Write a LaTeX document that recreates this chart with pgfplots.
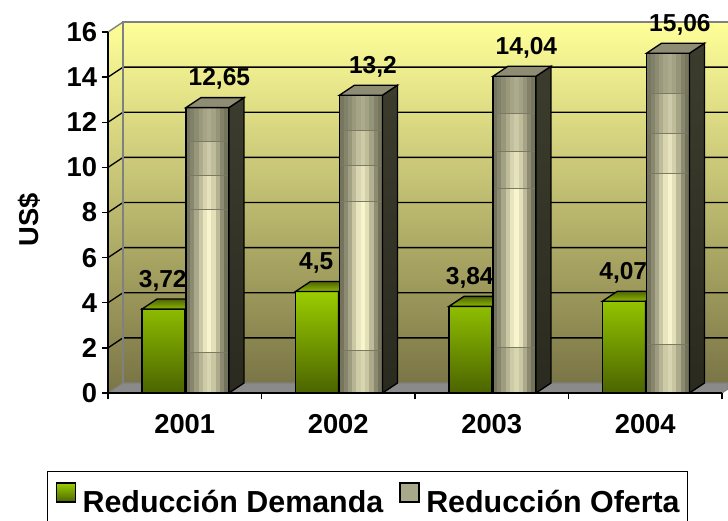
\documentclass[border=0pt]{standalone}
\usepackage{pgfplots}
\pgfplotsset{compat=1.18}
\usepackage{pgfplotstable}
\usepackage{fontspec}
\setmainfont{Liberation Sans}

\definecolor{wallTop}{HTML}{FFFF99}
\definecolor{wallMid}{HTML}{D9D581}
\definecolor{wallBot}{HTML}{7A7546}
\definecolor{floorC}{HTML}{8A8A8A}
\definecolor{edgeC}{HTML}{808080}
\definecolor{gTop}{HTML}{9ACD00}
\definecolor{gBot}{HTML}{4B6400}
\definecolor{gFaceBack}{HTML}{4E6408}
\definecolor{gFaceFront}{HTML}{8DB600}
\definecolor{oA}{HTML}{7A7A62}
\definecolor{oS1}{HTML}{74745C}
\definecolor{oS2}{HTML}{8C8B71}
\definecolor{oS3}{HTML}{A9A88A}
\definecolor{oS4}{HTML}{CBC8A5}
\definecolor{oS5}{HTML}{E9E5BE}
\definecolor{oS6}{HTML}{F8F5CE}
\definecolor{oS7}{HTML}{E4E0B8}
\definecolor{oS8}{HTML}{BDBB9A}
\definecolor{oS9}{HTML}{919075}
\definecolor{oS10}{HTML}{71715A}
\definecolor{oSideTop}{HTML}{3C3C2E}
\definecolor{oSideMid}{HTML}{646450}
\definecolor{oSideBot}{HTML}{2A2A1F}
\definecolor{oTopF}{HTML}{8E8C72}

\pgfplotsset{
  squarelegend/.style={legend image code/.code={\draw[##1,/tikz/.cd,line width=0.9pt] (0pt,0pt) rectangle (14.25pt,14.25pt);}},
  ofertalegend/.style={legend image code/.code={%
    \path[/tikz/fill=oS2] (0pt,0pt) rectangle (14.25pt,14.25pt);
    \path[/tikz/fill=oS4] (2.5pt,0pt) rectangle (11.5pt,14.25pt);
    \path[/tikz/fill=oS6] (5pt,0pt) rectangle (9pt,14.25pt);
    \path[/tikz/draw=black,/tikz/line width=0.9pt] (0pt,0pt) rectangle (14.25pt,14.25pt);}},
}

\pgfplotstableread{
x val
0.5 3.72
1.5 4.5
2.5 3.84
3.5 4.07
}\demanda
\pgfplotstableread{
x val
0.5 12.65
1.5 13.2
2.5 14.04
3.5 15.06
}\oferta

\begin{document}
\begin{tikzpicture}
\useasboundingbox (-81pt,-96pt) rectangle (465pt,294.75pt);
% back wall
\shade[top color=wallTop, middle color=wallMid, bottom color=wallBot] (11.25pt,7.5pt) rectangle (465pt,278.22pt);
% left wall
\shade[top color=wallTop, middle color=wallMid, bottom color=wallBot] (0pt,0pt) -- (0pt,270.72pt) -- (11.25pt,278.22pt) -- (11.25pt,7.5pt) -- cycle;
% floor
\filldraw[fill=floorC, draw=edgeC, line width=0.8pt] (0pt,0pt) -- (460.5pt,0pt) -- (465pt,3pt) -- (465pt,7.5pt) -- (11.25pt,7.5pt) -- cycle;
% grid lines on the walls
\foreach \v in {2,4,...,14} {
  \draw[black, line width=1pt] (0pt,\v*16.92pt) -- ++(11.25pt,7.5pt) -- (465pt,\v*16.92pt+7.5pt);
}
\draw[edgeC, line width=1pt] (11.25pt,7.5pt) -- (11.25pt,278.22pt) -- (465pt,278.22pt);
\draw[edgeC, line width=1pt] (0pt,270.72pt) -- (11.25pt,278.22pt);

\begin{axis}[
  at={(0pt,0pt)}, anchor=south west,
  x=115.125pt, y=16.92pt,
  xmin=0, xmax=4, ymin=0, ymax=16,
  clip=false,
  axis x line*=bottom, axis y line*=left,
  axis line style={black, line width=1.1pt},
  tick style={black, line width=1.1pt},
  tick align=outside, major tick length=4.7pt,
  xtick={0,1,2,3,4}, xticklabels={2001,2002,2003,2004}, x tick label as interval,
  xticklabel style={yshift=-7.5pt},
  ytick={0,2,...,16},
  tick label style={font=\fontsize{20.5}{20.5}\selectfont\bfseries},
  /pgf/number format/assume math mode=true,
  /pgf/number format/use comma,
  ylabel={US\$},
  every axis y label/.style={at={(rel axis cs:0,0.48)}, xshift=-59pt, rotate=90, anchor=center, font=\fontsize{20.5}{20.5}\selectfont\bfseries},
  every node near coord/.append style={font=\fontsize{18.4}{18.4}\selectfont\bfseries, black, inner sep=0pt, anchor=base, yshift=16.5pt},
  legend columns=2,
  legend style={at={(0,0)}, anchor=north west, xshift=-45.75pt, yshift=-58.5pt,
    draw=black, line width=1.1pt, fill=white,
    font=\fontsize{22.8}{22.8}\selectfont\bfseries,
    inner xsep=6pt, inner ysep=8pt,
    nodes={inner sep=0pt},
    /tikz/every odd column/.append style={column sep=5pt},
    /tikz/every even column/.append style={column sep=12pt}},
]
% Reduccion Demanda: front faces
\addplot[ybar, bar width=0.28, bar shift=-0.1384, draw=black, line width=1pt,
  top color=gTop, bottom color=gBot, squarelegend,
  nodes near coords, every node near coord/.append style={xshift=-16.5pt},
  /pgf/number format/fixed, /pgf/number format/precision=2]
  table[x=x, y=val]{\demanda};
\addlegendentry{Reducción Demanda}
% Reduccion Demanda: top and side faces
\addplot[forget plot, scatter, only marks, mark=*, mark size=0pt,
  point meta=explicit symbolic,
  scatter/@pre marker code/.code={%
    \draw[black, opacity=1, line width=1pt, fill=gBot] (16.12pt,0pt) -- (27.37pt,7.5pt) -- (27.37pt,{7.5pt-\pgfplotspointmeta*16.92pt}) -- (16.12pt,{-\pgfplotspointmeta*16.92pt}) -- cycle;
    \draw[black, opacity=1, line width=1pt, top color=gFaceBack, bottom color=gFaceFront] (-16.12pt,0pt) -- (16.12pt,0pt) -- (27.37pt,7.5pt) -- (-4.87pt,7.5pt) -- cycle;
  },
  scatter/@post marker code/.code={}]
  table[x expr=\thisrow{x}-0.1384, y=val, meta=val]{\demanda};
% Reduccion Oferta: front faces
\addplot[ybar, bar width=0.28, bar shift=0.148, draw=black, line width=1pt,
  fill=oS3, ofertalegend,
  nodes near coords, every node near coord/.append style={xshift=26pt},
  /pgf/number format/fixed, /pgf/number format/precision=2]
  table[x=x, y=val]{\oferta};
\addlegendentry{Reducción Oferta}
% Reduccion Oferta: shaded front, side and top faces
\addplot[forget plot, scatter, only marks, mark=*, mark size=0pt,
  point meta=explicit symbolic,
  scatter/@pre marker code/.code={%
    \foreach \c [count=\i from 0] in {oS1,oS2,oS3,oS4,oS5,oS6,oS7,oS8,oS9,oS10} {
      \fill[\c, opacity=1] ({-16.12pt+\i*3.224pt},0pt) rectangle ({-16.12pt+\i*3.224pt+3.3pt},{-\pgfplotspointmeta*16.92pt});
    }
    \fill[oA, fill opacity=0.6] (-16.12pt,0pt) rectangle (16.12pt,{-\pgfplotspointmeta*2pt});
    \fill[oA, fill opacity=0.35] (-16.12pt,{-\pgfplotspointmeta*2pt}) rectangle (16.12pt,{-\pgfplotspointmeta*4pt});
    \fill[oA, fill opacity=0.15] (-16.12pt,{-\pgfplotspointmeta*4pt}) rectangle (16.12pt,{-\pgfplotspointmeta*6pt});
    \fill[oA, fill opacity=0.25] (-16.12pt,{-\pgfplotspointmeta*14.5pt}) rectangle (16.12pt,{-\pgfplotspointmeta*16.92pt});
    \draw[black, opacity=1, line width=1pt] (-16.12pt,0pt) rectangle (16.12pt,{-\pgfplotspointmeta*16.92pt});
    \draw[black, opacity=1, line width=1pt, top color=oSideTop, middle color=oSideMid, bottom color=oSideBot] (16.12pt,0pt) -- (27.37pt,7.5pt) -- (27.37pt,{7.5pt-\pgfplotspointmeta*16.92pt}) -- (16.12pt,{-\pgfplotspointmeta*16.92pt}) -- cycle;
    \draw[black, opacity=1, line width=1pt, fill=oTopF] (-16.12pt,0pt) -- (16.12pt,0pt) -- (27.37pt,7.5pt) -- (-4.87pt,7.5pt) -- cycle;
  },
  scatter/@post marker code/.code={}]
  table[x expr=\thisrow{x}+0.148, y=val, meta=val]{\oferta};
\end{axis}
\end{tikzpicture}
\end{document}
